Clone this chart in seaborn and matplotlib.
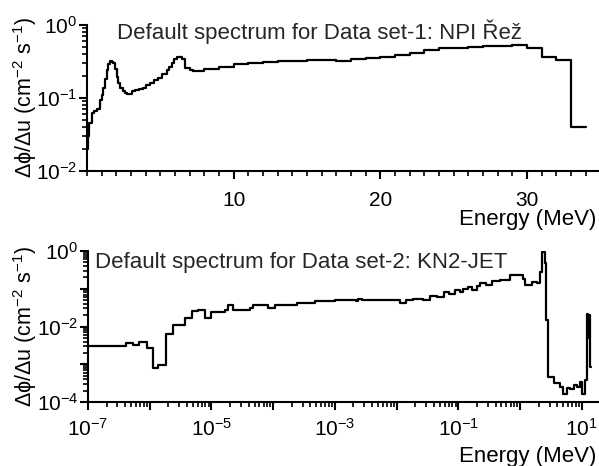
import numpy as np
import matplotlib
matplotlib.use("Agg")
import matplotlib.pyplot as plt
import seaborn as sns
from matplotlib.ticker import FixedLocator, MultipleLocator, LogLocator, FuncFormatter, NullFormatter

# data set 1: NPI Rez spectrum (bin start energy in MeV, flux per unit lethargy)
e1 = [0.05, 0.1, 0.16, 0.32, 0.5, 0.66, 0.89, 1.0, 1.11, 1.22, 1.34, 1.45, 1.57, 1.68, 1.79, 1.9,
      2.02, 2.13, 2.25, 2.42, 2.59, 2.76, 2.93, 3.1, 3.27, 3.55, 3.84, 4.05, 4.29, 4.57, 4.86,
      5.14, 5.43, 5.6, 5.77, 5.94, 6.11, 6.3, 6.46, 6.68, 7.0, 7.25, 8, 9, 10, 11, 12, 13, 14,
      15, 16, 17, 18, 19, 20, 21, 22, 23, 24, 25, 26, 27, 28, 29, 30, 31, 32, 33, 34]
f1 = [0.02, 0.03, 0.045, 0.063, 0.066, 0.071, 0.094, 0.11, 0.135, 0.18, 0.24, 0.29, 0.32, 0.31,
      0.30, 0.25, 0.195, 0.16, 0.135, 0.125, 0.118, 0.115, 0.115, 0.125, 0.13, 0.132, 0.135, 0.15,
      0.16, 0.175, 0.19, 0.21, 0.24, 0.27, 0.30, 0.34, 0.37, 0.36, 0.34, 0.26, 0.24, 0.235, 0.25,
      0.27, 0.29, 0.30, 0.31, 0.32, 0.32, 0.33, 0.33, 0.32, 0.34, 0.35, 0.37, 0.39, 0.42, 0.45,
      0.48, 0.49, 0.50, 0.51, 0.52, 0.53, 0.48, 0.36, 0.33, 0.04, 0.04]

# data set 2: KN2-JET spectrum
e2 = [1e-7, 4.2e-7, 5.4e-7, 6.8e-7, 8.9e-7, 1.12e-6, 1.38e-6, 1.82e-6, 2.34e-6, 3.7e-6, 4.8e-6,
      6.0e-6, 7.9e-6, 1.0e-5, 1.66e-5, 1.86e-5, 2.24e-5, 4.2e-5, 4.7e-5, 8.3e-5, 1.07e-4, 2.4e-4,
      4.8e-4, 1.0e-3, 2.2e-3, 2.4e-3, 2.7e-3, 5.4e-3, 7.8e-3, 1.15e-2, 1.4e-2, 1.86e-2, 2.7e-2,
      3.5e-2, 4.5e-2, 5.8e-2, 7.1e-2, 8.9e-2, 0.107, 0.12, 0.141, 0.166, 0.2, 0.224, 0.28, 0.355,
      0.48, 0.69, 0.93, 1.1, 1.2, 1.55, 1.86, 2.14, 2.3, 2.5, 2.63, 2.8, 3.5, 4.5, 5.0, 5.75, 6.5,
      7.6, 8.3, 9.3, 10.0, 11.2, 12.0, 12.6, 13.2, 13.8, 14.1]
f2 = [3.0e-3, 3.6e-3, 3.2e-3, 3.9e-3, 2.75e-3, 7.9e-4, 9.8e-4, 6.2e-3, 1.12e-2, 1.7e-2, 2.5e-2,
      2.8e-2, 1.7e-2, 2.4e-2, 2.7e-2, 3.6e-2, 2.7e-2, 3.0e-2, 3.6e-2, 3.1e-2, 3.6e-2, 4.3e-2,
      4.8e-2, 4.9e-2, 4.6e-2, 5.2e-2, 5.0e-2, 5.1e-2, 4.9e-2, 4.2e-2, 5.0e-2, 5.5e-2, 4.9e-2,
      6.6e-2, 6.0e-2, 8.1e-2, 7.2e-2, 9.3e-2, 8.3e-2, 0.10, 0.11, 0.095, 0.12, 0.138, 0.126,
      0.158, 0.166, 0.23, 0.23, 0.18, 0.123, 0.15, 0.138, 0.28, 0.93, 0.47, 1.45e-2, 4.6e-4,
      3.1e-4, 2.5e-4, 1.66e-4, 2.4e-4, 2.2e-4, 2.8e-4, 2.5e-4, 3.3e-4, 1.66e-4, 3.8e-4, 2.2e-2,
      5e-3, 2e-2, 8.5e-4, 8.5e-4]

title1 = "Default spectrum for Data set-1: NPI Řež"
title2 = "Default spectrum for Data set-2: KN2-JET"
ylab = "Δϕ/Δu (cm$^{-2}$ s$^{-1}$)"
xlab = "Energy (MeV)"

sns.set_style("ticks")
fs = 16
plt.rcParams.update({
    'font.family': ['Liberation Sans', 'DejaVu Sans'],
    'mathtext.default': 'regular',
    'xtick.major.size': 6, 'ytick.major.size': 6,
    'xtick.minor.size': 3.5, 'ytick.minor.size': 3.5,
    'xtick.major.width': 1.5, 'ytick.major.width': 1.5,
    'xtick.minor.width': 1.2, 'ytick.minor.width': 1.2,
    'xtick.color': 'black', 'ytick.color': 'black',
    'xtick.labelsize': 15, 'ytick.labelsize': 15,
    'ytick.major.pad': 1, 'xtick.major.pad': 7,
})

fig = plt.figure(figsize=(5.99, 4.66), dpi=100)
ax1 = fig.add_axes([87 / 599, 1 - 171 / 466, 512 / 599, 146 / 466])
ax2 = fig.add_axes([88 / 599, 1 - 402 / 466, 511 / 599, 151 / 466])

def all_lab(v, p):
    return '$\\mathdefault{10^{%d}}$' % int(round(np.log10(v)))

def odd_lab(v, p):
    k = int(round(np.log10(v)))
    return '$\\mathdefault{10^{%d}}$' % k if k % 2 != 0 else ''

def even_lab(v, p):
    k = int(round(np.log10(v)))
    return '$\\mathdefault{10^{%d}}$' % k if k % 2 == 0 else ''

# top panel
sns.lineplot(x=e1, y=f1, ax=ax1, drawstyle='steps-post', color='black', lw=1.6,
             estimator=None, sort=False)
ax1.set_yscale('log')
ax1.set_xlim(0, 34.9)
ax1.set_ylim(0.01, 1)
ax1.xaxis.set_major_locator(FixedLocator([10, 20, 30]))
ax1.xaxis.set_minor_locator(MultipleLocator(1))
ax1.yaxis.set_major_locator(LogLocator(base=10, numticks=10))
ax1.yaxis.set_minor_locator(LogLocator(base=10, subs=np.arange(2, 10), numticks=100))
ax1.yaxis.set_major_formatter(FuncFormatter(all_lab))
ax1.yaxis.set_minor_formatter(NullFormatter())
ax1.text(0.059, 0.952, title1, transform=ax1.transAxes, ha='left', va='center', fontsize=fs)

# bottom panel
sns.lineplot(x=e2, y=f2, ax=ax2, drawstyle='steps-post', color='black', lw=1.6,
             estimator=None, sort=False)
ax2.set_xscale('log')
ax2.set_yscale('log')
ax2.set_xlim(1e-7, 19)
ax2.set_ylim(1e-4, 1)
ax2.xaxis.set_major_locator(LogLocator(base=10, numticks=30))
ax2.xaxis.set_minor_locator(LogLocator(base=10, subs=np.arange(2, 10), numticks=200))
ax2.xaxis.set_major_formatter(FuncFormatter(odd_lab))
ax2.xaxis.set_minor_formatter(NullFormatter())
ax2.yaxis.set_major_locator(LogLocator(base=10, numticks=30))
ax2.yaxis.set_minor_locator(LogLocator(base=10, subs=np.arange(2, 10), numticks=200))
ax2.yaxis.set_major_formatter(FuncFormatter(even_lab))
ax2.yaxis.set_minor_formatter(NullFormatter())
ax2.text(0.014, 0.927, title2, transform=ax2.transAxes, ha='left', va='center', fontsize=fs)

for ax, xpad, ylx, xly in ((ax1, 8.5, -0.094, -0.26), (ax2, 5.5, -0.096, -0.291)):
    for side in ('top', 'right'):
        ax.spines[side].set_visible(False)
    for side in ('left', 'bottom'):
        ax.spines[side].set_linewidth(1.5)
        ax.spines[side].set_color('black')
    ax.xaxis.set_tick_params(which='major', pad=xpad)
    ax.set_xlabel(xlab, loc='right', fontsize=fs, color='black')
    ax.xaxis.set_label_coords(0.994, xly)
    ax.set_ylabel(ylab, fontsize=15.5, color='black')
    ax.yaxis.set_label_coords(ylx, 0.5)

# make sure the tick marks sitting outside the axes box are not clipped away
fig.canvas.draw()
for ax in (ax1, ax2):
    for axis in (ax.xaxis, ax.yaxis):
        for t in axis.get_major_ticks() + axis.get_minor_ticks():
            t.tick1line.set_clip_on(False)
            t.tick1line.set_visible(True)

fig.savefig("out.png", dpi=100)
